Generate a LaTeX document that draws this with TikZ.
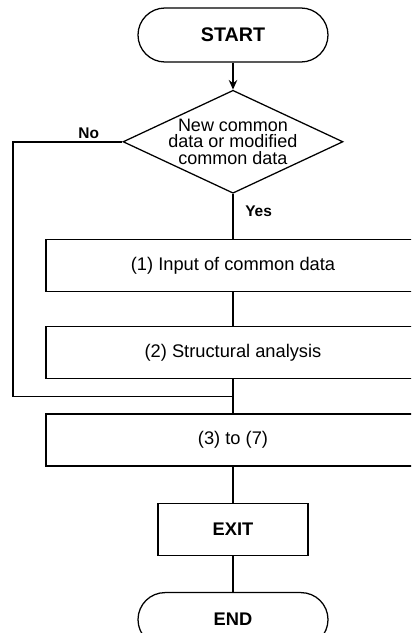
\documentclass[tikz,border=0pt]{standalone}
\usepackage{fontspec}
\setmainfont{Liberation Sans}
\usetikzlibrary{positioning,arrows.meta,shapes.geometric,calc}

\begin{document}
\begin{tikzpicture}[font=\fontsize{13}{14}\selectfont, >={Stealth[length=2.4mm,width=2.1mm]},
      term/.style={draw, rounded corners=0.675cm, minimum width=4.75cm, minimum height=1.35cm,
                line width=0.9pt, font=\fontsize{13}{14}\selectfont\bfseries},
      bx/.style={draw, minimum width=9.35cm, minimum height=1.3cm, line width=0.9pt},
      lbl/.style={inner sep=0pt, font=\fontsize{11}{12}\selectfont\bfseries},
      ln/.style={line width=1.2pt}]
    \useasboundingbox (0,0) rectangle (10.275,-15.825);
    \clip (0,0) rectangle (10.275,-15.825);
    \node[term, font=\fontsize{14}{15}\selectfont\bfseries] (start) at (5.825,-0.875) {START};
    \node[draw, diamond, aspect=2.14, inner sep=-0.15cm, minimum width=5.5cm, minimum height=2.575cm,
          line width=0.9pt, align=center, font=\fontsize{12.8}{11.8}\selectfont,
          below=0.675cm of start] (dec) {New common\\data or modified\\common data};
    \node[bx, below=1.125cm of dec] (inp) {(1) Input of common data};
    \node[bx, below=0.85cm of inp] (ana) {(2) Structural analysis};
    \node[bx, below=0.85cm of ana] (rest) {(3) to (7)};
    \node[term, rounded corners=0pt, minimum width=3.75cm, minimum height=1.3cm,
          below=0.9cm of rest] (exit) {EXIT};
    \node[term, below=0.9cm of exit] (stop) {END};
    \node[lbl, below right=0.3cm and 0.3cm of dec.south] (yes) {Yes};
    \node[lbl, above left=0.08cm and 0.575cm of dec.west] (no) {No};
    \draw[ln, ->] (start) -- (dec);
    \foreach \x/\y in {dec/inp,inp/ana,ana/rest,rest/exit,exit/stop} \draw[ln] (\x) -- (\y);
    \coordinate (mrg) at ($(ana.south)!0.5!(rest.north)$);
    \coordinate (lx) at (0.325,0);
    \draw[ln] (dec.west) -- (dec.west -| lx) |- (mrg);
  \end{tikzpicture}
\end{document}
